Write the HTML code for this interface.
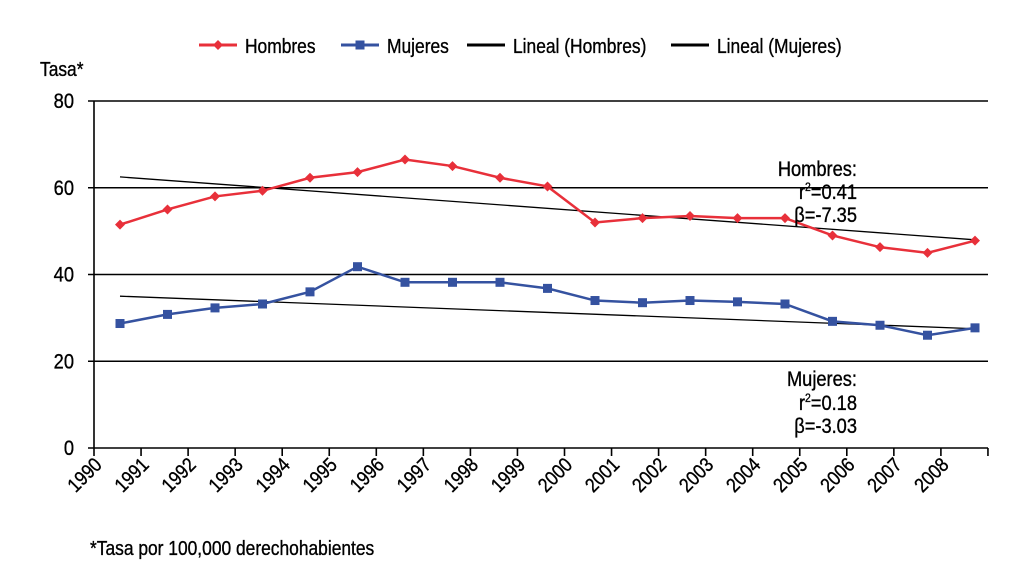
<!DOCTYPE html>
<html><head><meta charset="utf-8"><style>
body{margin:0;background:#fff;}
svg{font-family:"Liberation Sans",sans-serif;}
</style></head><body>
<svg width="1025" height="583" viewBox="0 0 1025 583">
<g id="root"></g>
</svg>
<script>
const years=["1990","1991","1992","1993","1994","1995","1996","1997","1998","1999","2000","2001","2002","2003","2004","2005","2006","2007","2008"];
const hombres=[51.5,55,58,59.3,62.3,63.6,66.5,65,62.3,60.3,52,53,53.5,53,53,49,46.3,45,47.8];
const mujeres=[28.7,30.8,32.3,33.2,36,41.8,38.2,38.2,38.2,36.8,34,33.5,34,33.7,33.2,29.2,28.3,26,27.7];
const trendHombres=[62.5,48];
const trendMujeres=[35,27.5];
const yTicks=[0,20,40,60,80];
const NS="http://www.w3.org/2000/svg";
const root=document.getElementById('root');
const X0=94,X1=988,Y0=448,Y1=101;
const n=years.length,tw=47.05,pw=47.5;
const xc=i=>120+pw*i;
const y=v=>Y0-(v/80)*(Y0-Y1);
const SX=0.87;
function el(t,a,txt){const e=document.createElementNS(NS,t);for(const k in a)e.setAttribute(k,a[k]);if(txt!==undefined)e.textContent=txt;root.appendChild(e);return e;}
function txt(x,yy,s,sz,anchor,rot){
 const tr=`translate(${x} ${yy})`+(rot?` rotate(${rot})`:'')+` scale(${SX} 1)`;
 return el('text',{x:0,y:0,'font-size':sz,'text-anchor':anchor||'start',transform:tr,stroke:'#000','stroke-width':0.35},s);
}
yTicks.forEach(v=>{
 const g=el('line',{x1:X0-6,x2:X1,y1:y(v),y2:y(v),stroke:'#000','stroke-width':1.6});
 
 
 const t=txt(X0-20,y(v)+7,String(v),21,'end');
 
 
});
const ya=el('line',{x1:X0,x2:X0,y1:Y1,y2:Y0,stroke:'#000','stroke-width':1.6});


for(let i=0;i<=n;i++){
 const xx=X0+tw*i;
 const tk=el('line',{x1:xx,x2:xx,y1:Y0,y2:Y0+8,stroke:'#000','stroke-width':1.6});
 
 
}
years.forEach((yr,i)=>{
 const t=txt(X0+tw*i+9,Y0+18,yr,20,'end',-45);
 
 
});
[[trendHombres,'hombres'],[trendMujeres,'mujeres']].forEach(([a,nm])=>{
 const l=el('line',{x1:xc(0),y1:y(a[0]),x2:xc(n-1),y2:y(a[1]),stroke:'#000','stroke-width':1.3});
 
 
});
function series(a,col,nm,shape){
 const p=el('polyline',{points:a.map((v,i)=>xc(i)+','+y(v)).join(' '),fill:'none',stroke:col,'stroke-width':2.5});
 
 
 a.forEach((v,i)=>{
  let m;
  if(shape==='d'){const X=xc(i),Y=y(v);m=el('polygon',{points:`${X},${Y-5} ${X+5},${Y} ${X},${Y+5} ${X-5},${Y}`,fill:col});}
  else m=el('rect',{x:xc(i)-4.5,y:y(v)-4.5,width:9,height:9,fill:col});
  
  
 });
}
series(hombres,'#e8303a','hombres','d');
series(mujeres,'#3552a0','mujeres','s');
function lab(x,yy,s,sz,anchor,name){const t=txt(x,yy,s,sz,anchor);return t;}
lab(40,76,'Tasa*',20,'start','y-axis-title');
lab(90,555,'*Tasa por 100,000 derechohabientes',20,'start','footnote');
lab(857,176,'Hombres:',21,'end','annot-hombres');
const r1=lab(857,199,'',21,'end','annot-hombres-r2');r1.innerHTML='r<tspan font-size="12" dy="-8">2</tspan><tspan dy="8">=0.41</tspan>';
lab(857,222,'β=-7.35',21,'end','annot-hombres-beta');
lab(857,386,'Mujeres:',21,'end','annot-mujeres');
const r2=lab(857,410,'',21,'end','annot-mujeres-r2');r2.innerHTML='r<tspan font-size="12" dy="-8">2</tspan><tspan dy="8">=0.18</tspan>';
lab(857,433,'β=-3.03',21,'end','annot-mujeres-beta');
function leg(x,col,shape,label,nm){
 const l=el('line',{x1:x,x2:x+38,y1:45,y2:45,stroke:col,'stroke-width':3});
 
 
 if(shape==='d'){const m=el('polygon',{points:`${x+19},40 ${x+24},45 ${x+19},50 ${x+14},45`,fill:col});}
 if(shape==='s'){const m=el('rect',{x:x+14.5,y:40.5,width:9,height:9,fill:col});}
 const t=txt(x+46,53,label,20,'start');
 
 
}
leg(199,'#e8303a','d','Hombres','hombres');
leg(341,'#3552a0','s','Mujeres','mujeres');
leg(467,'#000','','Lineal (Hombres)','lineal-hombres');
leg(671,'#000','','Lineal (Mujeres)','lineal-mujeres');
</script>
</body></html>
